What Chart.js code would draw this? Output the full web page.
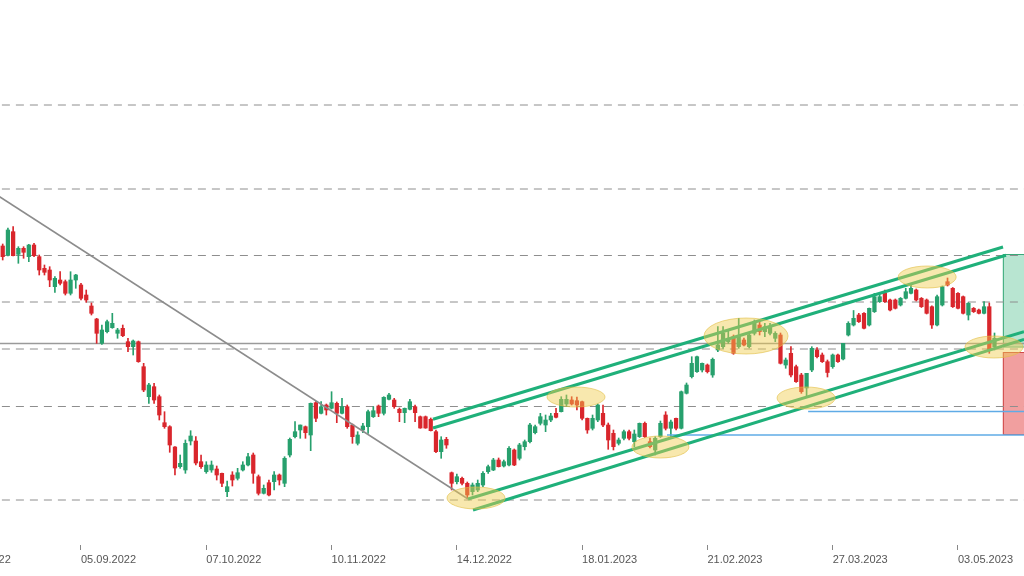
<!DOCTYPE html>
<html>
<head>
<meta charset="utf-8">
<script src="https://cdn.jsdelivr.net/npm/chart.js@4.4.0/dist/chart.umd.min.js"></script>
<style>
  html, body { margin: 0; padding: 0; background: #fff; }
  #wrap { width: 1024px; height: 576px; }
</style>
</head>
<body>
<div id="wrap"><canvas id="chart" width="1024" height="576"></canvas></div>
<script>
// ---------- candles (one per trading day, index 0 = first visible bar) ----------
const opens = [
  75.40,74.50,76.83,74.57,75.17,74.33,75.50,74.33,73.17,73.00,
  71.33,72.00,71.83,70.67,72.00,71.50,70.50,69.40,68.10,65.67,
  66.83,67.23,66.67,67.17,65.83,65.33,65.83,63.33,60.33,61.33,
  60.33,57.73,57.33,55.30,53.33,53.00,55.90,55.90,53.83,52.83,
  53.00,53.10,52.67,50.83,52.50,52.17,53.00,53.50,54.50,52.33,
  50.67,51.73,51.83,52.50,51.67,54.50,56.33,57.00,57.33,56.50,
  59.73,58.67,59.50,59.17,59.67,58.67,59.33,57.50,55.67,57.00,
  57.33,58.33,59.40,58.67,60.07,60.00,59.07,58.73,59.07,59.33,
  58.33,58.33,58.07,56.83,54.83,56.07,52.73,51.83,52.17,51.67,
  50.83,51.00,51.50,52.83,53.00,54.00,53.40,53.50,55.00,54.17,
  55.33,55.83,56.73,57.67,57.50,58.00,58.67,58.83,59.60,60.00,
  59.93,59.83,58.17,57.17,58.00,58.67,57.50,56.67,55.67,56.17,
  56.83,55.83,56.33,57.67,55.83,55.00,56.33,58.50,57.17,58.17,
  57.17,60.67,62.33,62.83,63.00,63.50,62.50,65.00,65.33,65.83,
  66.33,65.33,66.00,65.33,66.67,67.50,66.83,66.67,66.17,66.50,
  63.50,64.67,63.33,62.50,61.20,63.00,65.00,64.50,63.83,63.33,
  64.50,64.10,66.50,67.50,68.50,68.67,67.50,68.83,69.83,70.67,
  70.00,70.00,69.50,70.17,70.67,71.00,70.17,70.00,69.33,67.50,
  69.50,71.83,71.17,70.67,70.33,68.50,69.17,69.00,68.67,69.33,
  65.33
]
const highs = [
  75.60,77.20,77.33,75.33,75.33,75.57,75.67,74.50,73.50,73.33,
  72.33,72.83,72.00,72.83,72.57,71.67,71.00,69.70,68.17,67.50,
  68.00,68.67,67.17,67.50,66.17,66.00,65.90,63.67,61.67,61.67,
  60.50,58.83,57.43,55.33,54.50,56.00,56.93,56.33,54.50,53.83,
  53.90,53.40,52.70,51.90,52.83,53.17,53.83,54.67,54.70,52.50,
  51.50,52.00,52.83,52.60,54.33,56.20,57.83,57.50,57.40,59.70,
  59.83,59.83,59.60,60.83,59.80,60.17,59.50,57.60,56.83,57.67,
  59.00,59.33,59.50,60.33,60.67,60.17,59.20,59.20,60.07,59.50,
  58.40,58.40,58.20,57.00,56.33,56.27,52.80,52.60,52.30,51.80,
  51.70,52.00,52.83,53.50,54.17,54.20,54.00,55.33,55.10,55.67,
  56.00,57.67,57.50,58.67,58.50,58.67,59.17,60.33,60.50,60.33,
  60.30,59.90,58.20,58.50,59.60,59.50,57.70,57.00,56.20,57.00,
  57.00,57.00,57.70,57.80,56.20,56.33,57.90,58.83,58.00,58.20,
  60.90,61.70,64.33,64.40,63.70,63.60,64.20,67.33,67.33,67.00,
  66.50,68.17,66.20,66.70,68.00,68.00,67.67,67.67,66.83,66.70,
  64.20,65.33,63.50,62.67,62.67,65.33,65.25,64.70,64.00,64.60,
  64.60,65.67,67.83,68.95,68.67,68.75,69.20,70.67,70.67,71.00,
  70.10,70.10,70.25,71.17,71.50,71.10,70.25,70.10,69.42,70.50,
  71.40,72.20,71.25,70.75,70.40,69.75,69.25,69.10,69.83,69.70,
  66.70
]
const lows = [
  74.00,74.40,74.40,73.67,74.17,73.83,74.33,72.50,72.50,71.33,
  70.77,71.50,70.50,70.50,71.17,70.00,69.77,68.50,65.67,65.57,
  66.70,67.17,66.17,66.33,64.83,64.50,63.77,60.83,59.67,59.67,
  58.00,57.17,54.77,52.50,53.17,52.67,55.50,53.50,53.17,52.67,
  52.77,52.00,51.33,50.33,51.40,52.00,52.90,53.40,51.67,50.50,
  50.60,50.40,51.00,51.50,51.33,54.30,56.20,56.17,56.17,54.93,
  57.83,58.60,58.50,59.10,57.73,58.60,57.17,55.67,55.50,56.73,
  56.67,58.25,58.33,58.50,60.00,59.17,57.83,57.73,59.00,57.83,
  57.17,57.17,56.90,54.73,54.17,55.17,51.00,51.60,51.50,50.17,
  50.50,50.83,51.33,52.67,52.93,53.30,53.30,53.40,53.43,54.00,
  55.00,55.70,56.60,57.50,56.83,57.83,58.20,58.80,59.33,59.50,
  59.00,58.00,56.67,57.00,57.83,57.33,55.07,55.00,55.50,56.00,
  56.00,55.33,56.25,56.25,55.20,54.50,56.25,57.00,56.33,57.00,
  57.10,60.60,62.20,62.75,62.80,62.70,62.27,64.83,65.17,65.67,
  64.57,65.17,65.40,65.20,66.50,66.50,66.33,66.50,65.83,63.60,
  63.17,62.30,61.75,60.67,60.30,62.83,64.20,63.75,62.30,63.17,
  63.75,64.00,66.40,67.40,67.75,67.10,67.40,68.75,69.75,69.75,
  68.90,69.10,69.40,70.10,70.60,69.90,69.25,68.60,67.17,67.40,
  69.40,71.40,69.25,69.10,68.60,68.00,68.75,68.60,68.60,64.67,
  65.00
]
const closes = [
  74.33,77.00,74.43,75.17,74.77,75.50,74.43,73.00,72.77,72.00,
  72.17,71.67,70.67,72.00,72.50,70.17,70.00,68.67,66.67,67.00,
  67.83,67.67,67.00,66.43,65.33,65.90,63.83,61.00,61.50,60.00,
  58.50,57.33,55.50,53.20,53.67,55.67,56.40,53.70,53.33,53.50,
  53.50,52.50,51.67,51.33,52.00,52.73,53.50,54.33,52.67,50.67,
  51.17,50.50,52.50,52.00,54.17,56.07,56.83,57.50,56.73,59.67,
  58.17,59.33,59.00,59.73,58.67,59.33,57.33,56.33,56.50,57.40,
  58.83,58.93,58.67,60.27,60.50,59.33,58.73,59.17,59.83,58.73,
  57.20,57.20,56.93,54.83,56.00,55.50,51.67,52.33,51.67,50.50,
  51.50,51.67,52.67,53.33,54.00,53.33,53.83,55.17,53.50,55.50,
  55.83,57.50,57.33,58.33,58.00,58.40,58.27,60.07,60.07,59.60,
  59.50,58.17,57.00,58.17,59.50,57.50,56.00,55.33,56.00,56.83,
  56.17,56.60,57.67,56.33,55.33,56.17,57.67,57.17,57.80,57.17,
  60.83,61.50,63.67,64.33,63.67,62.83,64.07,65.50,66.67,66.17,
  64.67,66.33,65.50,66.50,67.83,66.83,67.33,67.33,66.67,63.67,
  64.00,62.50,61.83,60.83,62.67,65.17,64.33,63.83,62.75,64.50,
  63.83,65.67,67.67,68.17,67.83,67.17,69.17,70.33,70.33,69.83,
  69.00,69.17,70.17,70.83,71.17,70.00,69.33,68.67,67.50,70.33,
  71.33,71.50,69.33,69.17,68.67,69.67,68.83,68.67,69.33,65.00,
  66.17
]

// x-axis labels (bar index -> date)
const tickIndex = [-9, 15, 39, 63, 87, 111, 135, 159, 183]
const tickText = ['02.08.2022', '05.09.2022', '07.10.2022', '10.11.2022', '14.12.2022',
                  '18.01.2023', '21.02.2023', '27.03.2023', '03.05.2023']

// ---------- drawings ----------
const levels = [89.5, 81.1, 74.45, 69.8, 65.1, 59.35, 50.0]   // dashed horizontals
const pivotLevel = 65.65                                      // solid gray
const trendX = [-4.35, 89.14]
const trendY = [81.59, 50.10]
const chanUpperAX = [82.43, 191.63], chanUpperAY = [58.07, 75.30]
const chanUpperBX = [82.43, 192.20], chanUpperBY = [57.20, 74.47]
const chanLowerAX = [89.14, 195.66], chanLowerAY = [50.10, 66.83]
const chanLowerBX = [90.10, 195.66], chanLowerBY = [49.00, 66.05]
const supportFrom = [154.3, 127.26]
const supportLevel = [58.85, 56.5]
// marked swing points (ellipses): centre bar / price, half width in bars, half height in price
const markX  = [90.67, 109.83, 126.0, 142.4, 153.9, 177.1, 189.9]
const markY  = [50.2, 60.3, 55.3, 66.4, 60.2, 72.3, 65.3]
const markRX = [5.56, 5.56, 5.46, 8.05, 5.56, 5.56, 5.56]
const markRY = [1.1, 1.0, 1.1, 1.8, 1.1, 1.1, 1.1]
// long position tool: start bar, target top/entry, entry/stop
const posStart = 191.6
const targetZone = [74.6, 65.35]
const stopZone = [64.8, 56.6]

const X_MIN = -0.517
const X_MAX = 195.65
const GREEN = '#27a06d'
const RED = '#d9262c'

// =============================================
// datasets
// =============================================
const idx = opens.map((_, i) => i)
const candleColor = idx.map(i => closes[i] >= opens[i] ? GREEN : RED)

function lineSet(xs, ys, color, width, dash, order) {
  return {
    type: 'line',
    data: xs.map((x, k) => ({ x, y: ys[k] })),
    borderColor: color,
    borderWidth: width,
    borderDash: dash || [],
    pointRadius: 0,
    fill: false,
    tension: 0,
    order
  }
}

const datasets = []
levels.forEach(l => datasets.push(lineSet([X_MIN - 5, X_MAX + 5], [l, l], '#8e8e8e', 1, [8, 6], 20)))
datasets.push(lineSet([X_MIN - 5, X_MAX + 5], [pivotLevel, pivotLevel], '#9a9a9a', 1.5, null, 19))
datasets.push({
  label: 'wick',
  data: idx.map(i => ({ x: i, y: [lows[i], highs[i]] })),
  backgroundColor: candleColor,
  barThickness: 1,
  grouped: false,
  minBarLength: 1,
  order: 10
})
datasets.push({
  label: 'body',
  data: idx.map(i => ({ x: i, y: [opens[i], closes[i]] })),
  backgroundColor: candleColor,
  barThickness: 3.6,
  grouped: false,
  minBarLength: 1,
  order: 9
})
datasets.push(lineSet(trendX, trendY, '#8c8c8c', 1.5, null, 5))
supportFrom.forEach((f, k) =>
  datasets.push(lineSet([f, X_MAX + 5], [supportLevel[k], supportLevel[k]], '#5fabe6', 1.5, null, 5)))
datasets.push(lineSet(chanUpperAX, chanUpperAY, '#1fb07a', 3, null, 4))
datasets.push(lineSet(chanUpperBX, chanUpperBY, '#1fb07a', 3, null, 4))
datasets.push(lineSet(chanLowerAX, chanLowerAY, '#1fb07a', 3, null, 4))
datasets.push(lineSet(chanLowerBX, chanLowerBY, '#1fb07a', 3, null, 4))

// =============================================
// ellipses + position boxes
// =============================================
const overlays = {
  id: 'overlays',
  beforeDatasetsDraw(chart) {
    const { ctx, chartArea: a, scales: { x, y } } = chart
    ctx.save()
    ctx.beginPath(); ctx.rect(a.left, a.top, a.width, a.height); ctx.clip()
    const x0 = x.getPixelForValue(posStart)
    const x1 = x.getPixelForValue(X_MAX + 10)
    const box = (zone, fill, stroke) => {
      const t = y.getPixelForValue(zone[0]), b = y.getPixelForValue(zone[1])
      ctx.fillStyle = fill
      ctx.fillRect(x0, t, x1 - x0, b - t)
      ctx.strokeStyle = stroke
      ctx.lineWidth = 1
      ctx.strokeRect(x0 + 0.5, t + 0.5, x1 - x0, b - t)
    }
    box(targetZone, 'rgba(40,175,115,0.33)', '#3aa97a')
    box(stopZone, 'rgba(225,55,55,0.48)', '#d04848')
    ctx.restore()
  },
  afterDatasetsDraw(chart) {
    const { ctx, chartArea: a, scales: { x, y } } = chart
    ctx.save()
    ctx.beginPath(); ctx.rect(a.left, a.top, a.width, a.height); ctx.clip()
    markX.forEach((mx, k) => {
      const cx = x.getPixelForValue(mx), cy = y.getPixelForValue(markY[k])
      const rx = Math.abs(x.getPixelForValue(mx + markRX[k]) - cx)
      const ry = Math.abs(y.getPixelForValue(markY[k] + markRY[k]) - cy)
      ctx.beginPath()
      ctx.ellipse(cx, cy, rx, ry, 0, 0, Math.PI * 2)
      ctx.fillStyle = 'rgba(240,205,75,0.45)'
      ctx.fill()
      ctx.strokeStyle = 'rgba(225,190,70,0.6)'
      ctx.lineWidth = 1
      ctx.stroke()
    })
    ctx.restore()
  }
}

new Chart(document.getElementById('chart'), {
  type: 'bar',
  data: { datasets },
  plugins: [overlays],
  options: {
    responsive: false,
    animation: false,
    devicePixelRatio: 1,
    layout: { padding: 0 },
    plugins: { legend: { display: false }, tooltip: { enabled: false } },
    scales: {
      x: {
        type: 'linear',
        min: X_MIN,
        max: X_MAX,
        offset: false,
        afterBuildTicks: scale => { scale.ticks = tickIndex.map(v => ({ value: v })) },
        afterFit: scale => {
          // the first (partial) label hangs off the left edge, like the original
          scale.height = 31
          scale.paddingLeft = 0
          scale.paddingRight = 0
        },
        ticks: {
          autoSkip: false,
          maxRotation: 0,
          minRotation: 0,
          align: 'start',
          padding: 3,
          color: '#555',
          font: { family: "'Liberation Sans', Arial, sans-serif", size: 11 },
          callback: v => tickText[tickIndex.indexOf(v)] ?? ''
        },
        grid: { drawOnChartArea: false, drawTicks: true, tickLength: 5, color: '#888', offset: false },
        border: { display: false }
      },
      y: {
        type: 'linear',
        min: 45.5,
        max: 100,
        display: false
      }
    }
  }
})
</script>
</body>
</html>
